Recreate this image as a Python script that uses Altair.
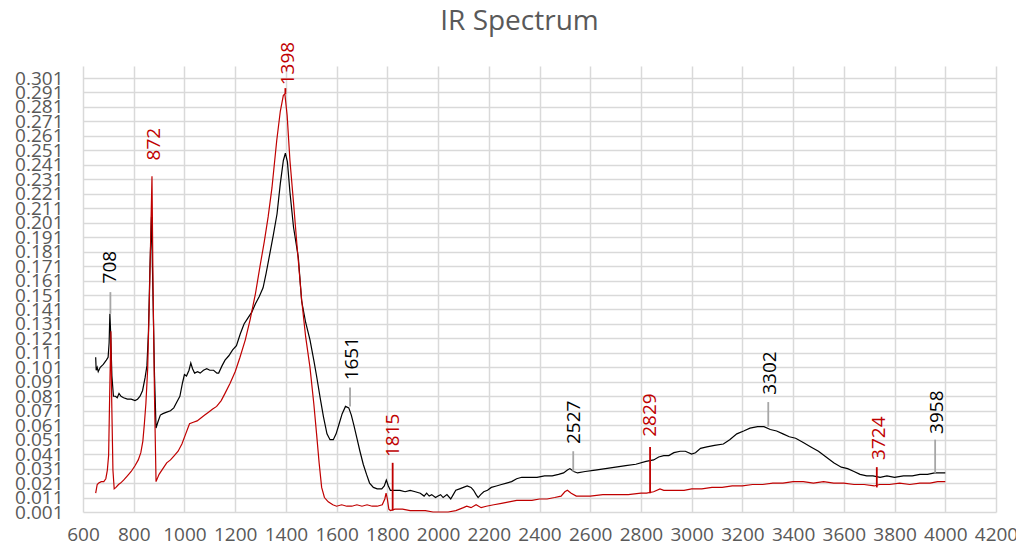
import altair as alt
import pandas as pd

# ---- data ----
black_x = [650, 652, 656, 660, 668, 680, 692, 699, 703, 706, 709, 714, 720, 728, 735, 742, 750, 760, 775, 790,
           805, 815, 825, 835, 845, 852, 858, 864, 870, 876, 882, 888, 895, 905, 915, 930, 945, 958, 970, 982,
           992, 1000, 1008, 1018, 1025, 1032, 1040, 1052, 1062, 1075, 1088, 1100, 1115, 1128, 1135, 1148, 1160,
           1175, 1190, 1205, 1220, 1235, 1250, 1265, 1280, 1295, 1310, 1322, 1335, 1350, 1365, 1378, 1390, 1398,
           1406, 1416, 1430, 1449, 1462, 1478, 1495, 1510, 1521, 1535, 1548, 1562, 1574, 1587, 1598, 1610, 1622,
           1635, 1648, 1658, 1668, 1680, 1692, 1705, 1718, 1730, 1745, 1760, 1778, 1788, 1796, 1804, 1812, 1830,
           1850, 1870, 1890, 1910, 1930, 1945, 1955, 1965, 1975, 1990, 2000, 2010, 2020, 2035, 2050, 2060, 2070,
           2085, 2100, 2115, 2130, 2140, 2150, 2158, 2168, 2180, 2195, 2210, 2230, 2250, 2270, 2290, 2310, 2330,
           2360, 2390, 2420, 2450, 2475, 2495, 2510, 2520, 2535, 2550, 2580, 2620, 2660, 2700, 2740, 2780, 2820,
           2850, 2870, 2890, 2910, 2930, 2955, 2975, 3000, 3015, 3035, 3060, 3090, 3125, 3150, 3178, 3205, 3230,
           3260, 3285, 3310, 3335, 3360, 3385, 3410, 3440, 3470, 3500, 3530, 3560, 3590, 3615, 3640, 3664, 3690,
           3715, 3743, 3770, 3800, 3835, 3870, 3900, 3930, 3958, 3980, 4000]
black_y = [0.108, 0.099, 0.101, 0.098, 0.101, 0.103, 0.106, 0.108, 0.118, 0.138, 0.125, 0.095, 0.081, 0.081,
           0.080, 0.083, 0.081, 0.080, 0.079, 0.079, 0.078, 0.079, 0.081, 0.085, 0.094, 0.102, 0.125, 0.170,
           0.205, 0.150, 0.095, 0.059, 0.063, 0.068, 0.069, 0.070, 0.071, 0.073, 0.077, 0.081, 0.090, 0.096,
           0.095, 0.099, 0.104, 0.100, 0.097, 0.098, 0.097, 0.099, 0.100, 0.099, 0.099, 0.097, 0.097, 0.102,
           0.106, 0.109, 0.113, 0.116, 0.124, 0.131, 0.135, 0.139, 0.145, 0.150, 0.156, 0.166, 0.178, 0.192,
           0.207, 0.228, 0.244, 0.249, 0.243, 0.222, 0.198, 0.177, 0.147, 0.132, 0.120, 0.106, 0.095, 0.080,
           0.067, 0.055, 0.051, 0.051, 0.055, 0.062, 0.069, 0.074, 0.073, 0.068, 0.061, 0.052, 0.043, 0.034,
           0.027, 0.021, 0.018, 0.017, 0.017, 0.019, 0.023, 0.019, 0.016, 0.016, 0.016, 0.015, 0.016, 0.015,
           0.014, 0.012, 0.014, 0.012, 0.013, 0.011, 0.012, 0.013, 0.011, 0.013, 0.010, 0.013, 0.016, 0.017,
           0.018, 0.019, 0.018, 0.016, 0.013, 0.011, 0.013, 0.015, 0.016, 0.018, 0.019, 0.020, 0.021, 0.022,
           0.024, 0.025, 0.025, 0.025, 0.026, 0.026, 0.027, 0.028, 0.030, 0.031, 0.029, 0.028, 0.029, 0.030,
           0.031, 0.032, 0.033, 0.034, 0.036, 0.037, 0.039, 0.040, 0.040, 0.042, 0.043, 0.043, 0.041, 0.042,
           0.045, 0.046, 0.047, 0.048, 0.051, 0.055, 0.057, 0.059, 0.060, 0.060, 0.058, 0.057, 0.055, 0.053,
           0.052, 0.049, 0.046, 0.043, 0.039, 0.035, 0.032, 0.031, 0.029, 0.027, 0.026, 0.026, 0.025, 0.026,
           0.025, 0.026, 0.026, 0.027, 0.027, 0.028, 0.028, 0.028]

red_x = [650, 656, 662, 672, 682, 690, 696, 701, 705, 710, 713, 718, 723, 730, 740, 748, 760, 775, 790, 805,
         818, 828, 836, 842, 848, 855, 862, 868, 872, 876, 882, 888, 900, 915, 930, 945, 960, 975, 990, 1005,
         1020, 1035, 1050, 1065, 1080, 1095, 1110, 1127, 1145, 1160, 1180, 1200, 1219, 1240, 1259, 1280, 1298,
         1315, 1330, 1345, 1364, 1378, 1390, 1396, 1405, 1416, 1430, 1443, 1462, 1478, 1495, 1510, 1521, 1531,
         1541, 1552, 1567, 1585, 1600, 1620, 1640, 1660, 1680, 1700, 1720, 1740, 1760, 1780, 1790, 1795, 1800,
         1806, 1812, 1830, 1860, 1890, 1920, 1950, 1980, 2010, 2040, 2070, 2100, 2113, 2130, 2150, 2170, 2190,
         2220, 2250, 2280, 2310, 2340, 2370, 2400, 2430, 2460, 2485, 2500, 2510, 2525, 2545, 2570, 2600, 2650,
         2700, 2750, 2800, 2822, 2850, 2875, 2890, 2910, 2940, 2970, 3000, 3040, 3080, 3120, 3160, 3200, 3240,
         3280, 3320, 3360, 3400, 3440, 3480, 3520, 3560, 3600, 3640, 3680, 3720, 3740, 3780, 3820, 3860, 3900,
         3940, 3970, 4000]
red_y = [0.014, 0.020, 0.021, 0.022, 0.022, 0.024, 0.030, 0.040, 0.080, 0.126, 0.080, 0.030, 0.017, 0.018,
         0.020, 0.021, 0.023, 0.026, 0.029, 0.033, 0.037, 0.042, 0.050, 0.062, 0.076, 0.100, 0.150, 0.200,
         0.233, 0.160, 0.080, 0.022, 0.027, 0.031, 0.035, 0.037, 0.040, 0.043, 0.048, 0.055, 0.062, 0.063,
         0.064, 0.066, 0.068, 0.070, 0.072, 0.074, 0.078, 0.083, 0.090, 0.098, 0.108, 0.120, 0.134, 0.152,
         0.171, 0.188, 0.205, 0.225, 0.258, 0.278, 0.289, 0.290, 0.275, 0.244, 0.215, 0.187, 0.148, 0.122,
         0.101, 0.076, 0.055, 0.035, 0.018, 0.011, 0.008, 0.006, 0.005, 0.006, 0.005, 0.005, 0.006, 0.005,
         0.006, 0.005, 0.005, 0.006, 0.010, 0.014, 0.010, 0.003, 0.002, 0.003, 0.003, 0.002, 0.002, 0.002,
         0.001, 0.001, 0.001, 0.002, 0.004, 0.005, 0.004, 0.006, 0.004, 0.005, 0.006, 0.007, 0.008, 0.009,
         0.009, 0.009, 0.010, 0.010, 0.011, 0.012, 0.015, 0.016, 0.014, 0.012, 0.012, 0.012, 0.013, 0.013,
         0.013, 0.014, 0.014, 0.015, 0.017, 0.016, 0.016, 0.016, 0.016, 0.017, 0.017, 0.018, 0.018, 0.019,
         0.019, 0.020, 0.020, 0.021, 0.021, 0.022, 0.022, 0.021, 0.022, 0.021, 0.021, 0.020, 0.020, 0.019,
         0.020, 0.020, 0.021, 0.020, 0.021, 0.021, 0.022, 0.022]

label_text = ["708", "872", "1398", "1651", "1815", "2527", "2829", "3302", "3724", "3958"]
label_series = ["black", "red", "red", "black", "red", "black", "red", "black", "red", "black"]
label_x = [708, 880, 1408, 1662, 1821, 2536, 2836, 3309, 3740, 3969]
label_y = [0.159, 0.244, 0.296, 0.092, 0.039, 0.048, 0.053, 0.082, 0.037, 0.055]

leader_series = ["black", "red", "black", "red", "black", "red", "black", "red", "black"]
leader_x = [708, 1398, 1653, 1821, 2533, 2836, 3302, 3730, 3960]
leader_top = [0.153, 0.294, 0.087, 0.035, 0.043, 0.046, 0.077, 0.032, 0.051]
leader_bottom = [0.138, 0.290, 0.074, 0.002, 0.029, 0.014, 0.060, 0.018, 0.028]

x_ticks = [600, 800, 1000, 1200, 1400, 1600, 1800, 2000, 2200, 2400, 2600, 2800, 3000, 3200, 3400, 3600,
           3800, 4000, 4200]
y_ticks = [0.001, 0.011, 0.021, 0.031, 0.041, 0.051, 0.061, 0.071, 0.081, 0.091, 0.101, 0.111, 0.121, 0.131,
           0.141, 0.151, 0.161, 0.171, 0.181, 0.191, 0.201, 0.211, 0.221, 0.231, 0.241, 0.251, 0.261, 0.271,
           0.281, 0.291, 0.301]

FONT = "Open Sans"
RED = "#c00000"

black_df = pd.DataFrame({"x": black_x, "y": black_y})
red_df = pd.DataFrame({"x": red_x, "y": red_y})
labels_df = pd.DataFrame({"text": label_text, "series": label_series, "x": label_x, "y": label_y})
leader_df = pd.DataFrame({"series": leader_series, "x": leader_x, "y": leader_top, "y2": leader_bottom})

xscale = alt.Scale(domain=[600, 4200], nice=False, zero=False)
yscale = alt.Scale(domain=[0.001, 0.3093], nice=False, zero=False)

xenc = alt.X("x:Q", scale=xscale,
             axis=alt.Axis(values=x_ticks, tickCount=40, format="d", title=None, grid=True, domain=False,
                           ticks=False, labelPadding=13, labelFontSize=19, labelFont=FONT, labelColor="#595959",
                           gridColor="#d9d9d9", gridWidth=1.5, labelFlush=False, labelOverlap=False))
yenc = alt.Y("y:Q", scale=yscale,
             axis=alt.Axis(values=y_ticks, tickCount=60, format=".3f", title=None, grid=True, domain=False,
                           ticks=False, labelPadding=20, labelFontSize=19, labelFont=FONT, labelColor="#595959",
                           gridColor="#d9d9d9", gridWidth=1.5, labelFlush=False, labelOverlap=False))

black_line = alt.Chart(black_df).mark_line(color="#000000", strokeWidth=1.2).encode(x=xenc, y=yenc, order="x:Q")
red_line = alt.Chart(red_df).mark_line(color=RED, strokeWidth=1.2).encode(x="x:Q", y="y:Q", order="x:Q")

color_scale = alt.Scale(domain=["black", "red"], range=["#000000", RED])
lead_color_scale = alt.Scale(domain=["black", "red"], range=["#a6a6a6", RED])

leaders = alt.Chart(leader_df).mark_rule(strokeWidth=1.8).encode(
    x="x:Q", y="y:Q", y2="y2:Q",
    color=alt.Color("series:N", scale=lead_color_scale, legend=None))

texts = alt.Chart(labels_df).mark_text(angle=270, align="left", baseline="middle",
                                       font=FONT, fontSize=19).encode(
    x="x:Q", y="y:Q", text="text:N",
    color=alt.Color("series:N", scale=color_scale, legend=None))

chart = alt.layer(black_line, red_line, leaders, texts).resolve_scale(color="independent").properties(
    width=913, height=446,
    title=alt.TitleParams("IR Spectrum", font=FONT, fontSize=28, fontWeight="normal", color="#595959",
                          anchor="middle", dx=-20, offset=6),
    autosize=alt.AutoSizeParams(type="none"),
    padding={"left": 75, "top": 58, "right": 20, "bottom": 33},
).configure_view(stroke=None)

chart.save("out.html", embed_options={"renderer": "svg", "actions": False})
